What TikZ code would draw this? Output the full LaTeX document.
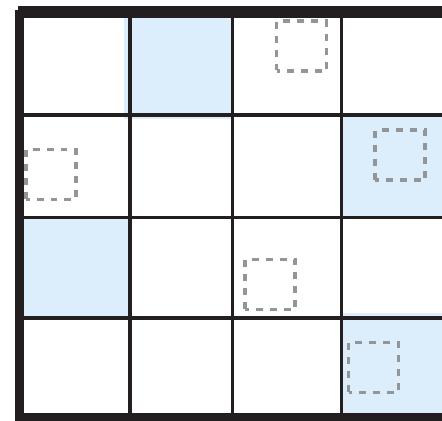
\documentclass[tikz,border=0pt]{standalone}
\usepackage{xcolor}
\definecolor{cell-blue}{HTML}{DCEEFB}
\definecolor{ink}{HTML}{231F20}
\definecolor{spot-gray}{HTML}{939699}

\begin{document}
\begin{tikzpicture}[x=0.02cm, y=-0.02cm,
  grid line/.style={ink, line width=0.065cm},
  border/.style={ink, line width=0.2cm},
  spot/.style={draw=spot-gray, line width=0.07cm, dash pattern=on 0.14cm off 0.14cm,
    dash phase=0.07cm, minimum size=1cm, inner sep=0pt}]
  \useasboundingbox (0,0) rectangle (442,420);
  % shaded cells
  \fill[cell-blue] (124,18) rectangle (231,119);
  \fill[cell-blue] (341,116) rectangle (442,217);
  \fill[cell-blue] (24,217) rectangle (129,318);
  \fill[cell-blue] (341,313) rectangle (442,413);
  % grid
  \foreach \x in {130,232.5,341.5}
    \draw[grid line] (\x,18) -- (\x,413);
  \foreach \y in {115,217.5,318}
    \draw[grid line] (24,\y) -- (442,\y);
  % outer frame
  \draw[border, line width=0.24cm] (18,12) -- (442,12);
  \draw[border] (19.5,10) -- (19.5,420);
  \draw[border, line width=0.16cm] (15,416.5) -- (442,416.5);
  % dashed spots
  \node[spot] (s02) at (301.5,46) {};
  \node[spot] (s10) at (51,174.5) {};
  \node[spot] (s13) at (400,155) {};
  \node[spot] (s22) at (270,284.5) {};
  \node[spot] (s33) at (373.5,367.5) {};
\end{tikzpicture}
\end{document}
